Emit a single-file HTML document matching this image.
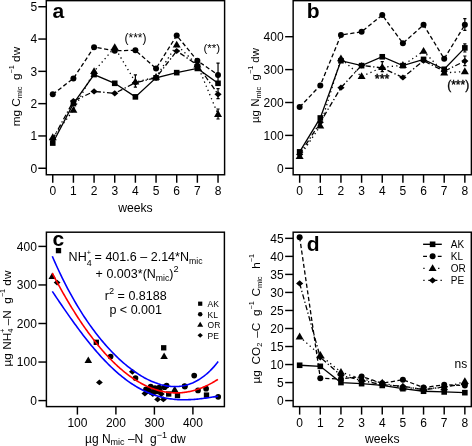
<!DOCTYPE html>
<html><head><meta charset="utf-8"><style>
html,body{margin:0;padding:0;background:#fff;width:472px;height:446px;overflow:hidden}
svg{display:block;will-change:transform}
text{font-family:"Liberation Sans",sans-serif;fill:#000}
</style></head><body>
<svg width="472" height="446" viewBox="0 0 472 446">

<rect x="46.3" y="0.65" width="178.3" height="174.1" fill="none" stroke="#000" stroke-width="1.45"/>
<line x1="52.75" y1="174.75" x2="52.75" y2="182.75" stroke="#000" stroke-width="1.45"/>
<text x="52.75" y="194.6" font-size="12" text-anchor="middle" font-weight="normal" >0</text>
<line x1="73.41" y1="174.75" x2="73.41" y2="182.75" stroke="#000" stroke-width="1.45"/>
<text x="73.41" y="194.6" font-size="12" text-anchor="middle" font-weight="normal" >1</text>
<line x1="94.07" y1="174.75" x2="94.07" y2="182.75" stroke="#000" stroke-width="1.45"/>
<text x="94.07" y="194.6" font-size="12" text-anchor="middle" font-weight="normal" >2</text>
<line x1="114.73" y1="174.75" x2="114.73" y2="182.75" stroke="#000" stroke-width="1.45"/>
<text x="114.73" y="194.6" font-size="12" text-anchor="middle" font-weight="normal" >3</text>
<line x1="135.39" y1="174.75" x2="135.39" y2="182.75" stroke="#000" stroke-width="1.45"/>
<text x="135.39" y="194.6" font-size="12" text-anchor="middle" font-weight="normal" >4</text>
<line x1="156.05" y1="174.75" x2="156.05" y2="182.75" stroke="#000" stroke-width="1.45"/>
<text x="156.05" y="194.6" font-size="12" text-anchor="middle" font-weight="normal" >5</text>
<line x1="176.71" y1="174.75" x2="176.71" y2="182.75" stroke="#000" stroke-width="1.45"/>
<text x="176.71" y="194.6" font-size="12" text-anchor="middle" font-weight="normal" >6</text>
<line x1="197.37" y1="174.75" x2="197.37" y2="182.75" stroke="#000" stroke-width="1.45"/>
<text x="197.37" y="194.6" font-size="12" text-anchor="middle" font-weight="normal" >7</text>
<line x1="218.03" y1="174.75" x2="218.03" y2="182.75" stroke="#000" stroke-width="1.45"/>
<text x="218.03" y="194.6" font-size="12" text-anchor="middle" font-weight="normal" >8</text>
<line x1="38.3" y1="168.25" x2="46.3" y2="168.25" stroke="#000" stroke-width="1.45"/>
<text x="37.3" y="172.55" font-size="12" text-anchor="end" font-weight="normal" >0</text>
<line x1="38.3" y1="135.95" x2="46.3" y2="135.95" stroke="#000" stroke-width="1.45"/>
<text x="37.3" y="140.25" font-size="12" text-anchor="end" font-weight="normal" >1</text>
<line x1="38.3" y1="103.65" x2="46.3" y2="103.65" stroke="#000" stroke-width="1.45"/>
<text x="37.3" y="107.95" font-size="12" text-anchor="end" font-weight="normal" >2</text>
<line x1="38.3" y1="71.35" x2="46.3" y2="71.35" stroke="#000" stroke-width="1.45"/>
<text x="37.3" y="75.65" font-size="12" text-anchor="end" font-weight="normal" >3</text>
<line x1="38.3" y1="39.05" x2="46.3" y2="39.05" stroke="#000" stroke-width="1.45"/>
<text x="37.3" y="43.35000000000001" font-size="12" text-anchor="end" font-weight="normal" >4</text>
<line x1="38.3" y1="6.75" x2="46.3" y2="6.75" stroke="#000" stroke-width="1.45"/>
<text x="37.3" y="11.05" font-size="12" text-anchor="end" font-weight="normal" >5</text>
<text x="135.4" y="212.1" font-size="12.2" text-anchor="middle" font-weight="normal" >weeks</text>
<text transform="translate(19.9,86.6) rotate(-90)" font-size="11.8" text-anchor="middle"><tspan>mg C</tspan><tspan font-size="7.5" dy="2.00">mic</tspan><tspan dy="-2.00">&#160; g</tspan><tspan font-size="7.2" dy="-5.80">−1</tspan><tspan dy="5.80">&#160;dw</tspan></text>
<text x="52.6" y="18.0" font-size="21" text-anchor="start" font-weight="bold" >a</text>
<polyline points="52.75,137.56 73.41,110.11 94.07,71.35 114.73,47.45 135.39,82.01 156.05,77.16 176.71,44.86 197.37,64.89 218.03,114.31" fill="none" stroke="#000" stroke-width="1.3" stroke-dasharray="1.3,3.2"/>
<path d="M52.75,133.37 L56.74,140.17 L48.76,140.17Z" fill="#000"/>
<path d="M73.41,105.91 L77.40,112.71 L69.42,112.71Z" fill="#000"/>
<path d="M94.07,67.15 L98.06,73.95 L90.08,73.95Z" fill="#000"/>
<path d="M114.73,43.25 L118.72,50.05 L110.74,50.05Z" fill="#000"/>
<path d="M135.39,77.81 L139.38,84.61 L131.40,84.61Z" fill="#000"/>
<path d="M156.05,72.96 L160.04,79.77 L152.06,79.77Z" fill="#000"/>
<path d="M176.71,40.66 L180.70,47.47 L172.72,47.47Z" fill="#000"/>
<path d="M197.37,60.69 L201.36,67.49 L193.38,67.49Z" fill="#000"/>
<path d="M218.03,110.11 L222.02,116.91 L214.04,116.91Z" fill="#000"/>
<polyline points="52.75,139.18 73.41,101.07 94.07,91.38 114.73,93.31 135.39,82.66 156.05,77.81 176.71,51.00 197.37,64.89 218.03,94.28" fill="none" stroke="#000" stroke-width="1.3" stroke-dasharray="5.2,2.4,1.3,2.4"/>
<path d="M52.75,136.08 L56.35,139.18 L52.75,142.28 L49.15,139.18Z" fill="#000"/>
<path d="M73.41,97.97 L77.01,101.07 L73.41,104.17 L69.81,101.07Z" fill="#000"/>
<path d="M94.07,88.28 L97.67,91.38 L94.07,94.48 L90.47,91.38Z" fill="#000"/>
<path d="M114.73,90.21 L118.33,93.31 L114.73,96.41 L111.13,93.31Z" fill="#000"/>
<path d="M135.39,79.56 L138.99,82.66 L135.39,85.76 L131.79,82.66Z" fill="#000"/>
<path d="M156.05,74.71 L159.65,77.81 L156.05,80.91 L152.45,77.81Z" fill="#000"/>
<path d="M176.71,47.90 L180.31,51.00 L176.71,54.10 L173.11,51.00Z" fill="#000"/>
<path d="M197.37,61.79 L200.97,64.89 L197.37,67.99 L193.77,64.89Z" fill="#000"/>
<path d="M218.03,91.18 L221.63,94.28 L218.03,97.38 L214.43,94.28Z" fill="#000"/>
<polyline points="52.75,94.28 73.41,78.46 94.07,47.13 114.73,50.68 135.39,50.36 156.05,68.44 176.71,35.50 197.37,60.69 218.03,74.90" fill="none" stroke="#000" stroke-width="1.3" stroke-dasharray="4.2,2.5"/>
<circle cx="52.75" cy="94.28" r="3.00" fill="#000"/>
<circle cx="73.41" cy="78.46" r="3.00" fill="#000"/>
<circle cx="94.07" cy="47.13" r="3.00" fill="#000"/>
<circle cx="114.73" cy="50.68" r="3.00" fill="#000"/>
<circle cx="135.39" cy="50.36" r="3.00" fill="#000"/>
<circle cx="156.05" cy="68.44" r="3.00" fill="#000"/>
<circle cx="176.71" cy="35.50" r="3.00" fill="#000"/>
<circle cx="197.37" cy="60.69" r="3.00" fill="#000"/>
<circle cx="218.03" cy="74.90" r="3.00" fill="#000"/>
<polyline points="52.75,143.06 73.41,103.65 94.07,74.58 114.73,83.30 135.39,96.87 156.05,77.81 176.71,72.64 197.37,68.44 218.03,83.30" fill="none" stroke="#000" stroke-width="1.3"/>
<rect x="49.95" y="140.26" width="5.60" height="5.60" fill="#000"/>
<rect x="70.61" y="100.85" width="5.60" height="5.60" fill="#000"/>
<rect x="91.27" y="71.78" width="5.60" height="5.60" fill="#000"/>
<rect x="111.93" y="80.50" width="5.60" height="5.60" fill="#000"/>
<rect x="132.59" y="94.07" width="5.60" height="5.60" fill="#000"/>
<rect x="153.25" y="75.01" width="5.60" height="5.60" fill="#000"/>
<rect x="173.91" y="69.84" width="5.60" height="5.60" fill="#000"/>
<rect x="194.57" y="65.64" width="5.60" height="5.60" fill="#000"/>
<rect x="215.23" y="80.50" width="5.60" height="5.60" fill="#000"/>
<path d="M135.39,74.8 V87.1 M133.79,74.8 H136.98999999999998 M133.79,87.1 H136.98999999999998" stroke="#000" stroke-width="1.2" fill="none"/>
<path d="M218.03,63.1 V82.4 M216.43,63.1 H219.63 M216.43,82.4 H219.63" stroke="#000" stroke-width="1.2" fill="none"/>
<path d="M218.03,88.6 V98.7 M216.43,88.6 H219.63 M216.43,98.7 H219.63" stroke="#000" stroke-width="1.2" fill="none"/>
<path d="M218.03,109 V119 M216.43,109 H219.63 M216.43,119 H219.63" stroke="#000" stroke-width="1.2" fill="none"/>
<text x="135.5" y="42.3" font-size="12" text-anchor="middle" font-weight="normal" >(***)</text>
<text x="211.7" y="51.5" font-size="11.5" text-anchor="middle" font-weight="normal" >(**)</text>
<rect x="293.15" y="0.65" width="178.25" height="174.1" fill="none" stroke="#000" stroke-width="1.45"/>
<line x1="299.65" y1="174.75" x2="299.65" y2="182.75" stroke="#000" stroke-width="1.45"/>
<text x="299.65" y="194.6" font-size="12" text-anchor="middle" font-weight="normal" >0</text>
<line x1="320.30" y1="174.75" x2="320.30" y2="182.75" stroke="#000" stroke-width="1.45"/>
<text x="320.29999999999995" y="194.6" font-size="12" text-anchor="middle" font-weight="normal" >1</text>
<line x1="340.95" y1="174.75" x2="340.95" y2="182.75" stroke="#000" stroke-width="1.45"/>
<text x="340.95" y="194.6" font-size="12" text-anchor="middle" font-weight="normal" >2</text>
<line x1="361.60" y1="174.75" x2="361.60" y2="182.75" stroke="#000" stroke-width="1.45"/>
<text x="361.59999999999997" y="194.6" font-size="12" text-anchor="middle" font-weight="normal" >3</text>
<line x1="382.25" y1="174.75" x2="382.25" y2="182.75" stroke="#000" stroke-width="1.45"/>
<text x="382.25" y="194.6" font-size="12" text-anchor="middle" font-weight="normal" >4</text>
<line x1="402.90" y1="174.75" x2="402.90" y2="182.75" stroke="#000" stroke-width="1.45"/>
<text x="402.9" y="194.6" font-size="12" text-anchor="middle" font-weight="normal" >5</text>
<line x1="423.55" y1="174.75" x2="423.55" y2="182.75" stroke="#000" stroke-width="1.45"/>
<text x="423.54999999999995" y="194.6" font-size="12" text-anchor="middle" font-weight="normal" >6</text>
<line x1="444.20" y1="174.75" x2="444.20" y2="182.75" stroke="#000" stroke-width="1.45"/>
<text x="444.19999999999993" y="194.6" font-size="12" text-anchor="middle" font-weight="normal" >7</text>
<line x1="464.85" y1="174.75" x2="464.85" y2="182.75" stroke="#000" stroke-width="1.45"/>
<text x="464.84999999999997" y="194.6" font-size="12" text-anchor="middle" font-weight="normal" >8</text>
<line x1="285.15" y1="168.30" x2="293.15" y2="168.30" stroke="#000" stroke-width="1.45"/>
<text x="283.65" y="172.60000000000002" font-size="12" text-anchor="end" font-weight="normal" >0</text>
<line x1="285.15" y1="135.40" x2="293.15" y2="135.40" stroke="#000" stroke-width="1.45"/>
<text x="283.65" y="139.70000000000002" font-size="12" text-anchor="end" font-weight="normal" >100</text>
<line x1="285.15" y1="102.50" x2="293.15" y2="102.50" stroke="#000" stroke-width="1.45"/>
<text x="283.65" y="106.80000000000001" font-size="12" text-anchor="end" font-weight="normal" >200</text>
<line x1="285.15" y1="69.60" x2="293.15" y2="69.60" stroke="#000" stroke-width="1.45"/>
<text x="283.65" y="73.9" font-size="12" text-anchor="end" font-weight="normal" >300</text>
<line x1="285.15" y1="36.70" x2="293.15" y2="36.70" stroke="#000" stroke-width="1.45"/>
<text x="283.65" y="41.000000000000014" font-size="12" text-anchor="end" font-weight="normal" >400</text>
<text transform="translate(259.0,85.5) rotate(-90)" font-size="11.5" text-anchor="middle"><tspan>µg N</tspan><tspan font-size="7.5" dy="2.00">mic</tspan><tspan dy="-2.00">&#160; g</tspan><tspan font-size="7.2" dy="-5.80">−1</tspan><tspan dy="5.80">&#160;dw</tspan></text>
<text x="306.7" y="18.0" font-size="21" text-anchor="start" font-weight="bold" >b</text>
<polyline points="299.65,156.46 320.30,125.86 340.95,58.74 361.60,76.51 382.25,67.30 402.90,65.32 423.55,51.18 444.20,72.89 464.85,71.57" fill="none" stroke="#000" stroke-width="1.3" stroke-dasharray="1.3,3.2"/>
<path d="M299.65,152.26 L303.64,159.06 L295.66,159.06Z" fill="#000"/>
<path d="M320.30,121.66 L324.29,128.46 L316.31,128.46Z" fill="#000"/>
<path d="M340.95,54.54 L344.94,61.35 L336.96,61.35Z" fill="#000"/>
<path d="M361.60,72.31 L365.59,79.11 L357.61,79.11Z" fill="#000"/>
<path d="M382.25,63.10 L386.24,69.90 L378.26,69.90Z" fill="#000"/>
<path d="M402.90,61.12 L406.89,67.93 L398.91,67.93Z" fill="#000"/>
<path d="M423.55,46.98 L427.54,53.78 L419.56,53.78Z" fill="#000"/>
<path d="M444.20,68.69 L448.19,75.49 L440.21,75.49Z" fill="#000"/>
<path d="M464.85,67.37 L468.84,74.18 L460.86,74.18Z" fill="#000"/>
<polyline points="299.65,154.48 320.30,122.24 340.95,87.70 361.60,65.32 382.25,67.96 402.90,77.50 423.55,60.72 444.20,71.25 464.85,61.05" fill="none" stroke="#000" stroke-width="1.3" stroke-dasharray="5.2,2.4,1.3,2.4"/>
<path d="M299.65,151.38 L303.25,154.48 L299.65,157.58 L296.05,154.48Z" fill="#000"/>
<path d="M320.30,119.14 L323.90,122.24 L320.30,125.34 L316.70,122.24Z" fill="#000"/>
<path d="M340.95,84.60 L344.55,87.70 L340.95,90.80 L337.35,87.70Z" fill="#000"/>
<path d="M361.60,62.22 L365.20,65.32 L361.60,68.42 L358.00,65.32Z" fill="#000"/>
<path d="M382.25,64.86 L385.85,67.96 L382.25,71.06 L378.65,67.96Z" fill="#000"/>
<path d="M402.90,74.40 L406.50,77.50 L402.90,80.60 L399.30,77.50Z" fill="#000"/>
<path d="M423.55,57.62 L427.15,60.72 L423.55,63.82 L419.95,60.72Z" fill="#000"/>
<path d="M444.20,68.15 L447.80,71.25 L444.20,74.34 L440.60,71.25Z" fill="#000"/>
<path d="M464.85,57.95 L468.45,61.05 L464.85,64.15 L461.25,61.05Z" fill="#000"/>
<polyline points="299.65,107.11 320.30,85.39 340.95,35.06 361.60,31.77 382.25,14.99 402.90,43.28 423.55,24.86 444.20,58.74 464.85,24.86" fill="none" stroke="#000" stroke-width="1.3" stroke-dasharray="4.2,2.5"/>
<circle cx="299.65" cy="107.11" r="3.00" fill="#000"/>
<circle cx="320.30" cy="85.39" r="3.00" fill="#000"/>
<circle cx="340.95" cy="35.06" r="3.00" fill="#000"/>
<circle cx="361.60" cy="31.77" r="3.00" fill="#000"/>
<circle cx="382.25" cy="14.99" r="3.00" fill="#000"/>
<circle cx="402.90" cy="43.28" r="3.00" fill="#000"/>
<circle cx="423.55" cy="24.86" r="3.00" fill="#000"/>
<circle cx="444.20" cy="58.74" r="3.00" fill="#000"/>
<circle cx="464.85" cy="24.86" r="3.00" fill="#000"/>
<polyline points="299.65,151.85 320.30,117.96 340.95,60.72 361.60,65.65 382.25,56.77 402.90,65.65 423.55,59.40 444.20,69.27 464.85,47.89" fill="none" stroke="#000" stroke-width="1.3"/>
<rect x="296.85" y="149.05" width="5.60" height="5.60" fill="#000"/>
<rect x="317.50" y="115.16" width="5.60" height="5.60" fill="#000"/>
<rect x="338.15" y="57.92" width="5.60" height="5.60" fill="#000"/>
<rect x="358.80" y="62.85" width="5.60" height="5.60" fill="#000"/>
<rect x="379.45" y="53.97" width="5.60" height="5.60" fill="#000"/>
<rect x="400.10" y="62.85" width="5.60" height="5.60" fill="#000"/>
<rect x="420.75" y="56.60" width="5.60" height="5.60" fill="#000"/>
<rect x="441.40" y="66.47" width="5.60" height="5.60" fill="#000"/>
<rect x="462.05" y="45.09" width="5.60" height="5.60" fill="#000"/>
<path d="M464.84999999999997,18.6 V30.4 M463.24999999999994,18.6 H466.45 M463.24999999999994,30.4 H466.45" stroke="#000" stroke-width="1.2" fill="none"/>
<path d="M464.84999999999997,43.8 V52 M463.24999999999994,43.8 H466.45 M463.24999999999994,52 H466.45" stroke="#000" stroke-width="1.2" fill="none"/>
<path d="M464.84999999999997,56 V65.7 M463.24999999999994,56 H466.45 M463.24999999999994,65.7 H466.45" stroke="#000" stroke-width="1.2" fill="none"/>
<path d="M382.25,61.6 V71.7 M380.65,61.6 H383.85 M380.65,71.7 H383.85" stroke="#000" stroke-width="1.2" fill="none"/>
<text x="382.1" y="82.8" font-size="12.5" text-anchor="middle" font-weight="normal" stroke="#000" stroke-width="0.45">***</text>
<text x="458.2" y="89" font-size="12" text-anchor="middle" font-weight="normal" stroke="#000" stroke-width="0.35">(***)</text>
<rect x="46.4" y="232.2" width="178.0" height="174.40000000000003" fill="none" stroke="#000" stroke-width="1.45"/>
<line x1="77.40" y1="406.6" x2="77.40" y2="414.6" stroke="#000" stroke-width="1.45"/>
<text x="77.4" y="426.6" font-size="12" text-anchor="middle" font-weight="normal" >100</text>
<line x1="115.90" y1="406.6" x2="115.90" y2="414.6" stroke="#000" stroke-width="1.45"/>
<text x="115.9" y="426.6" font-size="12" text-anchor="middle" font-weight="normal" >200</text>
<line x1="154.40" y1="406.6" x2="154.40" y2="414.6" stroke="#000" stroke-width="1.45"/>
<text x="154.4" y="426.6" font-size="12" text-anchor="middle" font-weight="normal" >300</text>
<line x1="192.90" y1="406.6" x2="192.90" y2="414.6" stroke="#000" stroke-width="1.45"/>
<text x="192.9" y="426.6" font-size="12" text-anchor="middle" font-weight="normal" >400</text>
<line x1="38.4" y1="400.60" x2="46.4" y2="400.60" stroke="#000" stroke-width="1.45"/>
<text x="36.9" y="404.90000000000003" font-size="12" text-anchor="end" font-weight="normal" >0</text>
<line x1="38.4" y1="362.05" x2="46.4" y2="362.05" stroke="#000" stroke-width="1.45"/>
<text x="36.9" y="366.35" font-size="12" text-anchor="end" font-weight="normal" >100</text>
<line x1="38.4" y1="323.50" x2="46.4" y2="323.50" stroke="#000" stroke-width="1.45"/>
<text x="36.9" y="327.8" font-size="12" text-anchor="end" font-weight="normal" >200</text>
<line x1="38.4" y1="284.95" x2="46.4" y2="284.95" stroke="#000" stroke-width="1.45"/>
<text x="36.9" y="289.25000000000006" font-size="12" text-anchor="end" font-weight="normal" >300</text>
<line x1="38.4" y1="246.40" x2="46.4" y2="246.40" stroke="#000" stroke-width="1.45"/>
<text x="36.9" y="250.70000000000002" font-size="12" text-anchor="end" font-weight="normal" >400</text>
<text x="135.3" y="442.9" font-size="12" text-anchor="middle">µg N<tspan font-size="9" dy="2.5">mic</tspan><tspan dy="-2.5"> –N&#160; g</tspan><tspan font-size="9" dy="-5">−1</tspan><tspan dy="5"> dw</tspan></text>
<text transform="translate(11,318.5) rotate(-90)" font-size="11.8" text-anchor="middle"><tspan>µg NH</tspan><tspan font-size="7.5" dy="2.00">4</tspan><tspan font-size="7.2" dy="-7.80" dx="-4.2">+</tspan><tspan dy="5.80">&#160;–N&#160; g</tspan><tspan font-size="7.2" dy="-5.80">−1</tspan><tspan dy="5.80">&#160;dw</tspan></text>
<text x="52.6" y="246.0" font-size="21" text-anchor="start" font-weight="bold" >c</text>
<rect x="55.84" y="247.94" width="5.32" height="5.32" fill="#000"/>
<path d="M52.30,272.51 L56.09,278.97 L48.51,278.97Z" fill="#000"/>
<path d="M57.10,279.66 L60.52,282.60 L57.10,285.55 L53.68,282.60Z" fill="#000"/>
<rect x="93.64" y="339.64" width="5.32" height="5.32" fill="#000"/>
<circle cx="110.60" cy="356.50" r="2.85" fill="#000"/>
<path d="M88.30,356.51 L92.09,362.97 L84.51,362.97Z" fill="#000"/>
<path d="M99.40,379.45 L102.82,382.40 L99.40,385.34 L95.98,382.40Z" fill="#000"/>
<path d="M132.40,368.86 L135.82,371.80 L132.40,374.75 L128.98,371.80Z" fill="#000"/>
<circle cx="135.50" cy="378.10" r="2.85" fill="#000"/>
<rect x="161.04" y="345.14" width="5.32" height="5.32" fill="#000"/>
<path d="M164.10,352.51 L167.89,358.97 L160.31,358.97Z" fill="#000"/>
<circle cx="194.20" cy="375.60" r="2.85" fill="#000"/>
<circle cx="184.90" cy="386.60" r="2.85" fill="#000"/>
<circle cx="198.00" cy="390.40" r="2.85" fill="#000"/>
<circle cx="206.10" cy="388.70" r="2.85" fill="#000"/>
<rect x="203.84" y="392.44" width="5.32" height="5.32" fill="#000"/>
<circle cx="218.20" cy="396.80" r="2.85" fill="#000"/>
<rect x="174.84" y="392.84" width="5.32" height="5.32" fill="#000"/>
<path d="M174.70,385.81 L178.49,392.27 L170.91,392.27Z" fill="#000"/>
<path d="M144.90,390.56 L148.32,393.50 L144.90,396.44 L141.48,393.50Z" fill="#000"/>
<circle cx="146.00" cy="389.30" r="2.85" fill="#000"/>
<circle cx="150.70" cy="386.70" r="2.85" fill="#000"/>
<circle cx="155.00" cy="388.20" r="2.85" fill="#000"/>
<circle cx="159.20" cy="387.70" r="2.85" fill="#000"/>
<circle cx="164.50" cy="387.20" r="2.85" fill="#000"/>
<circle cx="166.60" cy="385.60" r="2.85" fill="#000"/>
<path d="M157.60,396.45 L161.02,399.40 L157.60,402.34 L154.18,399.40Z" fill="#000"/>
<path d="M163.40,396.45 L166.82,399.40 L163.40,402.34 L159.98,399.40Z" fill="#000"/>
<path d="M152.80,391.06 L156.22,394.00 L152.80,396.94 L149.38,394.00Z" fill="#000"/>
<path d="M161.30,391.06 L164.72,394.00 L161.30,396.94 L157.88,394.00Z" fill="#000"/>
<rect x="166.04" y="391.34" width="5.32" height="5.32" fill="#000"/>
<circle cx="184.60" cy="386.10" r="2.85" fill="#000"/>
<circle cx="148.60" cy="390.90" r="2.85" fill="#000"/>
<rect x="149.14" y="389.34" width="5.32" height="5.32" fill="#000"/>
<circle cx="159.70" cy="390.90" r="2.85" fill="#000"/>
<rect x="153.34" y="388.84" width="5.32" height="5.32" fill="#000"/>
<polyline points="52.30,256.30 53.69,259.51 55.09,262.66 56.48,265.75 57.88,268.79 59.27,271.77 60.66,274.69 62.06,277.56 63.45,280.38 64.85,283.15 66.24,285.86 67.64,288.52 69.03,291.14 70.42,293.71 71.82,296.23 73.21,298.70 74.61,301.13 76.00,303.52 77.39,305.86 78.79,308.16 80.18,310.42 81.58,312.63 82.97,314.81 84.36,316.94 85.76,319.04 87.15,321.10 88.55,323.12 89.94,325.10 91.34,327.05 92.73,328.96 94.12,330.83 95.52,332.67 96.91,334.48 98.31,336.25 99.70,337.99 101.09,339.70 102.49,341.37 103.88,343.01 105.28,344.62 106.67,346.20 108.06,347.75 109.46,349.26 110.85,350.75 112.25,352.21 113.64,353.63 115.04,355.03 116.43,356.40 117.82,357.74 119.22,359.04 120.61,360.32 122.01,361.58 123.40,362.80 124.79,363.99 126.19,365.16 127.58,366.29 128.98,367.40 130.37,368.48 131.76,369.53 133.16,370.55 134.55,371.55 135.95,372.51 137.34,373.44 138.74,374.35 140.13,375.23 141.52,376.07 142.92,376.89 144.31,377.68 145.71,378.43 147.10,379.16 148.49,379.85 149.89,380.52 151.28,381.15 152.68,381.75 154.07,382.31 155.46,382.85 156.86,383.35 158.25,383.82 159.65,384.25 161.04,384.65 162.44,385.01 163.83,385.34 165.22,385.63 166.62,385.88 168.01,386.09 169.41,386.27 170.80,386.41 172.19,386.51 173.59,386.56 174.98,386.58 176.38,386.56 177.77,386.49 179.16,386.38 180.56,386.22 181.95,386.02 183.35,385.77 184.74,385.48 186.14,385.14 187.53,384.74 188.92,384.30 190.32,383.81 191.71,383.27 193.11,382.67 194.50,382.02 195.89,381.32 197.29,380.56 198.68,379.74 200.08,378.86 201.47,377.92 202.86,376.93 204.26,375.87 205.65,374.75 207.05,373.56 208.44,372.31 209.84,370.99 211.23,369.60 212.62,368.15 214.02,366.62 215.41,365.02 216.81,363.35 218.20,361.60" fill="none" stroke="#0000ff" stroke-width="1.6"/>
<polyline points="52.30,291.32 53.69,293.41 55.09,295.49 56.48,297.57 57.88,299.64 59.27,301.70 60.66,303.76 62.06,305.80 63.45,307.84 64.85,309.86 66.24,311.88 67.64,313.88 69.03,315.87 70.42,317.84 71.82,319.80 73.21,321.75 74.61,323.68 76.00,325.59 77.39,327.49 78.79,329.37 80.18,331.23 81.58,333.07 82.97,334.90 84.36,336.70 85.76,338.49 87.15,340.25 88.55,342.00 89.94,343.72 91.34,345.42 92.73,347.10 94.12,348.75 95.52,350.38 96.91,351.99 98.31,353.58 99.70,355.14 101.09,356.67 102.49,358.18 103.88,359.67 105.28,361.13 106.67,362.56 108.06,363.97 109.46,365.35 110.85,366.71 112.25,368.04 113.64,369.34 115.04,370.61 116.43,371.86 117.82,373.08 119.22,374.27 120.61,375.43 122.01,376.57 123.40,377.67 124.79,378.75 126.19,379.80 127.58,380.83 128.98,381.82 130.37,382.79 131.76,383.73 133.16,384.64 134.55,385.52 135.95,386.37 137.34,387.19 138.74,387.99 140.13,388.76 141.52,389.50 142.92,390.21 144.31,390.90 145.71,391.55 147.10,392.18 148.49,392.78 149.89,393.36 151.28,393.91 152.68,394.43 154.07,394.92 155.46,395.39 156.86,395.84 158.25,396.25 159.65,396.64 161.04,397.01 162.44,397.35 163.83,397.67 165.22,397.96 166.62,398.23 168.01,398.48 169.41,398.70 170.80,398.90 172.19,399.08 173.59,399.24 174.98,399.37 176.38,399.49 177.77,399.58 179.16,399.65 180.56,399.71 181.95,399.75 183.35,399.76 184.74,399.77 186.14,399.75 187.53,399.72 188.92,399.67 190.32,399.60 191.71,399.53 193.11,399.43 194.50,399.33 195.89,399.21 197.29,399.08 198.68,398.94 200.08,398.79 201.47,398.63 202.86,398.46 204.26,398.28 205.65,398.09 207.05,397.90 208.44,397.70 209.84,397.50 211.23,397.29 212.62,397.08 214.02,396.87 215.41,396.66 216.81,396.44 218.20,396.23" fill="none" stroke="#0000ff" stroke-width="1.6"/>
<polyline points="52.38,273.24 53.34,275.09 54.30,276.93 55.26,278.76 56.22,280.56 57.19,282.36 58.15,284.14 59.11,285.91 60.08,287.66 61.04,289.40 62.00,291.12 62.96,292.83 63.92,294.52 64.89,296.20 65.85,297.86 66.81,299.51 67.78,301.15 68.74,302.77 69.70,304.38 70.66,305.97 71.62,307.55 72.59,309.11 73.55,310.66 74.51,312.20 75.47,313.72 76.44,315.22 77.40,316.72 78.36,318.19 79.33,319.65 80.29,321.10 81.25,322.54 82.21,323.96 83.17,325.36 84.14,326.75 85.10,328.13 86.06,329.49 87.03,330.83 87.99,332.17 88.95,333.48 89.91,334.79 90.88,336.08 91.84,337.35 92.80,338.61 93.76,339.86 94.72,341.09 95.69,342.31 96.65,343.51 97.61,344.70 98.58,345.87 99.54,347.03 100.50,348.17 101.46,349.30 102.42,350.42 103.39,351.52 104.35,352.61 105.31,353.68 106.28,354.74 107.24,355.78 108.20,356.81 109.16,357.82 110.12,358.82 111.09,359.81 112.05,360.78 113.01,361.73 113.97,362.68 114.94,363.60 115.90,364.52 116.86,365.42 117.82,366.30 118.79,367.17 119.75,368.03 120.71,368.87 121.68,369.69 122.64,370.50 123.60,371.30 124.56,372.09 125.53,372.85 126.49,373.61 127.45,374.35 128.41,375.07 129.38,375.78 130.34,376.48 131.30,377.16 132.26,377.83 133.22,378.48 134.19,379.12 135.15,379.74 136.11,380.35 137.07,380.95 138.04,381.53 139.00,382.10 139.96,382.65 140.93,383.19 141.89,383.71 142.85,384.22 143.81,384.71 144.78,385.19 145.74,385.65 146.70,386.11 147.66,386.54 148.62,386.96 149.59,387.37 150.55,387.76 151.51,388.14 152.47,388.50 153.44,388.85 154.40,389.19 155.36,389.51 156.32,389.82 157.29,390.11 158.25,390.38 159.21,390.65 160.18,390.90 161.14,391.13 162.10,391.35 163.06,391.55 164.03,391.74 164.99,391.92 165.95,392.08 166.91,392.23 167.88,392.36 168.84,392.48 169.80,392.58 170.76,392.67 171.73,392.75 172.69,392.81 173.65,392.85 174.61,392.88 175.58,392.90 176.54,392.90 177.50,392.89 178.46,392.86 179.43,392.82 180.39,392.77 181.35,392.70 182.31,392.61 183.28,392.51 184.24,392.40 185.20,392.27 186.16,392.13 187.12,391.97 188.09,391.80 189.05,391.62 190.01,391.42 190.98,391.20 191.94,390.97 192.90,390.73 193.86,390.47 194.83,390.20 195.79,389.91 196.75,389.61 197.71,389.30 198.68,388.97 199.64,388.62 200.60,388.26 201.56,387.89 202.53,387.50 203.49,387.10 204.45,386.68 205.41,386.25 206.38,385.81 207.34,385.35 208.30,384.87 209.26,384.38 210.23,383.88 211.19,383.36 212.15,382.83 213.11,382.28 214.08,381.72 215.04,381.14 216.00,380.55 216.96,379.95 217.93,379.33" fill="none" stroke="#ff0000" stroke-width="1.6"/>
<text transform="matrix(1.045,0,0,1,-3.087,0)" x="68.6" y="261" font-size="12">NH<tspan font-size="8.5" dy="4.6">4</tspan><tspan font-size="7" dx="-4.6" dy="-11">+</tspan><tspan dy="6.4"> = 401.6 – 2.14*N</tspan><tspan font-size="8.3" dy="2.6">mic</tspan></text>
<text transform="matrix(1.045,0,0,1,-4.302,0)" x="95.6" y="278" font-size="12">+ 0.003*(N<tspan font-size="8.3" dy="2.6">mic</tspan><tspan dy="-2.6">)</tspan><tspan font-size="8.8" dy="-5.5">2</tspan></text>
<text transform="matrix(1.045,0,0,1,-4.716,0)" x="104.8" y="300" font-size="12">r<tspan font-size="8.8" dy="-5.5">2</tspan><tspan dy="5.5"> = 0.8188</tspan></text>
<text transform="matrix(1.045,0,0,1,-4.923,0)" x="109.4" y="314" font-size="12">p &lt; 0.001</text>
<rect x="198.10" y="301.60" width="4.20" height="4.20" fill="#000"/>
<text x="207.6" y="307.09999999999997" font-size="8.5" text-anchor="start" font-weight="normal" >AK</text>
<circle cx="200.20" cy="314.25" r="2.25" fill="#000"/>
<text x="207.6" y="317.65" font-size="8.5" text-anchor="start" font-weight="normal" >KL</text>
<path d="M200.20,321.65 L203.19,326.75 L197.21,326.75Z" fill="#000"/>
<text x="207.6" y="328.2" font-size="8.5" text-anchor="start" font-weight="normal" >OR</text>
<path d="M200.20,333.02 L202.90,335.35 L200.20,337.67 L197.50,335.35Z" fill="#000"/>
<text x="207.6" y="338.74999999999994" font-size="8.5" text-anchor="start" font-weight="normal" >PE</text>
<rect x="293.15" y="232.2" width="178.15000000000003" height="174.40000000000003" fill="none" stroke="#000" stroke-width="1.45"/>
<line x1="299.65" y1="406.6" x2="299.65" y2="414.6" stroke="#000" stroke-width="1.45"/>
<text x="299.65" y="426.6" font-size="12" text-anchor="middle" font-weight="normal" >0</text>
<line x1="320.30" y1="406.6" x2="320.30" y2="414.6" stroke="#000" stroke-width="1.45"/>
<text x="320.29999999999995" y="426.6" font-size="12" text-anchor="middle" font-weight="normal" >1</text>
<line x1="340.95" y1="406.6" x2="340.95" y2="414.6" stroke="#000" stroke-width="1.45"/>
<text x="340.95" y="426.6" font-size="12" text-anchor="middle" font-weight="normal" >2</text>
<line x1="361.60" y1="406.6" x2="361.60" y2="414.6" stroke="#000" stroke-width="1.45"/>
<text x="361.59999999999997" y="426.6" font-size="12" text-anchor="middle" font-weight="normal" >3</text>
<line x1="382.25" y1="406.6" x2="382.25" y2="414.6" stroke="#000" stroke-width="1.45"/>
<text x="382.25" y="426.6" font-size="12" text-anchor="middle" font-weight="normal" >4</text>
<line x1="402.90" y1="406.6" x2="402.90" y2="414.6" stroke="#000" stroke-width="1.45"/>
<text x="402.9" y="426.6" font-size="12" text-anchor="middle" font-weight="normal" >5</text>
<line x1="423.55" y1="406.6" x2="423.55" y2="414.6" stroke="#000" stroke-width="1.45"/>
<text x="423.54999999999995" y="426.6" font-size="12" text-anchor="middle" font-weight="normal" >6</text>
<line x1="444.20" y1="406.6" x2="444.20" y2="414.6" stroke="#000" stroke-width="1.45"/>
<text x="444.19999999999993" y="426.6" font-size="12" text-anchor="middle" font-weight="normal" >7</text>
<line x1="464.85" y1="406.6" x2="464.85" y2="414.6" stroke="#000" stroke-width="1.45"/>
<text x="464.84999999999997" y="426.6" font-size="12" text-anchor="middle" font-weight="normal" >8</text>
<line x1="285.15" y1="400.60" x2="293.15" y2="400.60" stroke="#000" stroke-width="1.45"/>
<text x="283.65" y="404.90000000000003" font-size="12" text-anchor="end" font-weight="normal" >0</text>
<line x1="285.15" y1="382.57" x2="293.15" y2="382.57" stroke="#000" stroke-width="1.45"/>
<text x="283.65" y="386.872" font-size="12" text-anchor="end" font-weight="normal" >5</text>
<line x1="285.15" y1="364.54" x2="293.15" y2="364.54" stroke="#000" stroke-width="1.45"/>
<text x="283.65" y="368.84400000000005" font-size="12" text-anchor="end" font-weight="normal" >10</text>
<line x1="285.15" y1="346.52" x2="293.15" y2="346.52" stroke="#000" stroke-width="1.45"/>
<text x="283.65" y="350.81600000000003" font-size="12" text-anchor="end" font-weight="normal" >15</text>
<line x1="285.15" y1="328.49" x2="293.15" y2="328.49" stroke="#000" stroke-width="1.45"/>
<text x="283.65" y="332.78800000000007" font-size="12" text-anchor="end" font-weight="normal" >20</text>
<line x1="285.15" y1="310.46" x2="293.15" y2="310.46" stroke="#000" stroke-width="1.45"/>
<text x="283.65" y="314.76000000000005" font-size="12" text-anchor="end" font-weight="normal" >25</text>
<line x1="285.15" y1="292.43" x2="293.15" y2="292.43" stroke="#000" stroke-width="1.45"/>
<text x="283.65" y="296.732" font-size="12" text-anchor="end" font-weight="normal" >30</text>
<line x1="285.15" y1="274.40" x2="293.15" y2="274.40" stroke="#000" stroke-width="1.45"/>
<text x="283.65" y="278.704" font-size="12" text-anchor="end" font-weight="normal" >35</text>
<line x1="285.15" y1="256.38" x2="293.15" y2="256.38" stroke="#000" stroke-width="1.45"/>
<text x="283.65" y="260.67600000000004" font-size="12" text-anchor="end" font-weight="normal" >40</text>
<line x1="285.15" y1="238.35" x2="293.15" y2="238.35" stroke="#000" stroke-width="1.45"/>
<text x="283.65" y="242.64800000000002" font-size="12" text-anchor="end" font-weight="normal" >45</text>
<text x="382.3" y="443.1" font-size="12.2" text-anchor="middle" font-weight="normal" >weeks</text>
<text transform="translate(259.6,318.8) rotate(-90)" font-size="11.8" text-anchor="middle"><tspan>µg</tspan><tspan dx="2.5">&#160;CO</tspan><tspan font-size="7.5" dy="2.00">2</tspan><tspan dy="-2.00" dx="1.5">&#160;–C&#160; g</tspan><tspan font-size="7.2" dy="-5.80">−1</tspan><tspan dy="5.80" dx="1.5">&#160;C</tspan><tspan font-size="7.5" dy="2.00">mic</tspan><tspan dy="-2.00" dx="1">&#160; h</tspan><tspan font-size="7.2" dy="-5.80">−1</tspan></text>
<text x="306.7" y="251.2" font-size="21" text-anchor="start" font-weight="bold" >d</text>
<polyline points="299.65,336.78 320.30,355.17 340.95,372.12 361.60,378.97 382.25,382.93 402.90,387.62 423.55,388.70 444.20,387.62 464.85,381.49" fill="none" stroke="#000" stroke-width="1.3" stroke-dasharray="1.3,3.2"/>
<path d="M299.65,332.58 L303.64,339.38 L295.66,339.38Z" fill="#000"/>
<path d="M320.30,350.97 L324.29,357.77 L316.31,357.77Z" fill="#000"/>
<path d="M340.95,367.92 L344.94,374.72 L336.96,374.72Z" fill="#000"/>
<path d="M361.60,374.77 L365.59,381.57 L357.61,381.57Z" fill="#000"/>
<path d="M382.25,378.73 L386.24,385.54 L378.26,385.54Z" fill="#000"/>
<path d="M402.90,383.42 L406.89,390.22 L398.91,390.22Z" fill="#000"/>
<path d="M423.55,384.50 L427.54,391.31 L419.56,391.31Z" fill="#000"/>
<path d="M444.20,383.42 L448.19,390.22 L440.21,390.22Z" fill="#000"/>
<path d="M464.85,377.29 L468.84,384.09 L460.86,384.09Z" fill="#000"/>
<polyline points="299.65,283.42 320.30,357.33 340.95,375.36 361.60,380.41 382.25,384.74 402.90,386.18 423.55,389.78 444.20,386.90 464.85,384.01" fill="none" stroke="#000" stroke-width="1.3" stroke-dasharray="5.2,2.4,1.3,2.4"/>
<path d="M299.65,280.32 L303.25,283.42 L299.65,286.52 L296.05,283.42Z" fill="#000"/>
<path d="M320.30,354.23 L323.90,357.33 L320.30,360.43 L316.70,357.33Z" fill="#000"/>
<path d="M340.95,372.26 L344.55,375.36 L340.95,378.46 L337.35,375.36Z" fill="#000"/>
<path d="M361.60,377.31 L365.20,380.41 L361.60,383.51 L358.00,380.41Z" fill="#000"/>
<path d="M382.25,381.64 L385.85,384.74 L382.25,387.84 L378.65,384.74Z" fill="#000"/>
<path d="M402.90,383.08 L406.50,386.18 L402.90,389.28 L399.30,386.18Z" fill="#000"/>
<path d="M423.55,386.68 L427.15,389.78 L423.55,392.88 L419.95,389.78Z" fill="#000"/>
<path d="M444.20,383.80 L447.80,386.90 L444.20,390.00 L440.60,386.90Z" fill="#000"/>
<path d="M464.85,380.91 L468.45,384.01 L464.85,387.11 L461.25,384.01Z" fill="#000"/>
<polyline points="299.65,237.27 320.30,378.25 340.95,378.97 361.60,376.44 382.25,383.29 402.90,379.69 423.55,387.62 444.20,384.74 464.85,385.46" fill="none" stroke="#000" stroke-width="1.3" stroke-dasharray="4.2,2.5"/>
<circle cx="299.65" cy="237.27" r="3.00" fill="#000"/>
<circle cx="320.30" cy="378.25" r="3.00" fill="#000"/>
<circle cx="340.95" cy="378.97" r="3.00" fill="#000"/>
<circle cx="361.60" cy="376.44" r="3.00" fill="#000"/>
<circle cx="382.25" cy="383.29" r="3.00" fill="#000"/>
<circle cx="402.90" cy="379.69" r="3.00" fill="#000"/>
<circle cx="423.55" cy="387.62" r="3.00" fill="#000"/>
<circle cx="444.20" cy="384.74" r="3.00" fill="#000"/>
<circle cx="464.85" cy="385.46" r="3.00" fill="#000"/>
<polyline points="299.65,365.27 320.30,366.35 340.95,382.57 361.60,383.65 382.25,385.46 402.90,388.70 423.55,391.23 444.20,391.95 464.85,392.67" fill="none" stroke="#000" stroke-width="1.3"/>
<rect x="296.85" y="362.47" width="5.60" height="5.60" fill="#000"/>
<rect x="317.50" y="363.55" width="5.60" height="5.60" fill="#000"/>
<rect x="338.15" y="379.77" width="5.60" height="5.60" fill="#000"/>
<rect x="358.80" y="380.85" width="5.60" height="5.60" fill="#000"/>
<rect x="379.45" y="382.66" width="5.60" height="5.60" fill="#000"/>
<rect x="400.10" y="385.90" width="5.60" height="5.60" fill="#000"/>
<rect x="420.75" y="388.43" width="5.60" height="5.60" fill="#000"/>
<rect x="441.40" y="389.15" width="5.60" height="5.60" fill="#000"/>
<rect x="462.05" y="389.87" width="5.60" height="5.60" fill="#000"/>
<text x="454.6" y="367.6" font-size="12" text-anchor="start" font-weight="normal" >ns</text>
<line x1="423.1" y1="244.30" x2="441.8" y2="244.30" stroke="#000" stroke-width="1.4"/>
<rect x="429.80" y="241.50" width="5.60" height="5.60" fill="#000"/>
<text x="450.8" y="247.9" font-size="10" text-anchor="start" font-weight="normal" >AK</text>
<path d="M423.1,256.33H427M437.8,256.33H441.6" stroke="#000" stroke-width="1.4"/>
<circle cx="432.60" cy="256.33" r="3.00" fill="#000"/>
<text x="450.8" y="259.93" font-size="10" text-anchor="start" font-weight="normal" >KL</text>
<path d="M423.3,268.36H424.6M438.1,268.36H439.4" stroke="#000" stroke-width="1.4"/>
<path d="M432.60,264.16 L436.59,270.96 L428.61,270.96Z" fill="#000"/>
<text x="450.8" y="271.96000000000004" font-size="10" text-anchor="start" font-weight="normal" >OR</text>
<path d="M423.3,280.39H424.6M428.3,280.39H437.4M440.5,280.39H441.8" stroke="#000" stroke-width="1.4"/>
<path d="M432.60,277.29 L436.20,280.39 L432.60,283.49 L429.00,280.39Z" fill="#000"/>
<text x="450.8" y="283.99" font-size="10" text-anchor="start" font-weight="normal" >PE</text>
</svg></body></html>
